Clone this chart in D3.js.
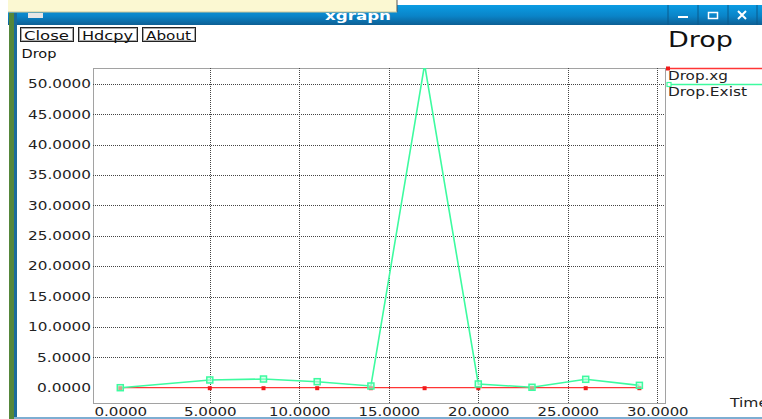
<!DOCTYPE html>
<html>
<head>
<meta charset="utf-8">
<title>xgraph Drop</title>
<style>
  html, body { margin: 0; padding: 0; background: #fff; }
  svg { display: block; }
  text { font-family: "DejaVu Sans", sans-serif; }
</style>
</head>
<body>
<svg id="chart" width="762" height="419"></svg>

<script src="https://cdn.jsdelivr.net/npm/d3@7"></script>
<script>
// values
const times     = [0, 5, 8, 11, 14, 17, 20, 23, 26, 29];
const dropXg    = [0, 0, 0, 0, 0, 0, 0, 0, 0, 0];
const dropExist = [0, 1.27, 1.43, 0.99, 0.28, 53.2, 0.61, 0.07, 1.38, 0.39];

const xTicks = [0, 5, 10, 15, 20, 25, 30];
const yTicks = [0, 5, 10, 15, 20, 25, 30, 35, 40, 45, 50];
const seriesNames = ["Drop.xg", "Drop.Exist"];
const buttons = ["Close", "Hdcpy", "About"];

const svg = d3.select("#chart");
const defs = svg.append("defs");

// ---- window chrome ----
svg.append("rect").attr("x", 0).attr("y", 0).attr("width", 762).attr("height", 419).attr("fill", "#fff");

const grad = defs.append("linearGradient")
  .attr("id", "tb").attr("x1", 0).attr("y1", 0).attr("x2", 0).attr("y2", 1);
grad.append("stop").attr("offset", "0%").attr("stop-color", "#0b9ce3");
grad.append("stop").attr("offset", "55%").attr("stop-color", "#0a84c8");
grad.append("stop").attr("offset", "100%").attr("stop-color", "#0d5f94");

svg.append("rect").attr("x", 8).attr("y", 5).attr("width", 754).attr("height", 20).attr("fill", "url(#tb)");
// left frame: green strip + blue strip
svg.append("rect").attr("x", 9).attr("y", 13).attr("width", 5).attr("height", 406).attr("fill", "#55873a");
svg.append("rect").attr("x", 14).attr("y", 13).attr("width", 3).attr("height", 406).attr("fill", "#1b6b9b");
// bottom frame line
svg.append("rect").attr("x", 14).attr("y", 417).attr("width", 748).attr("height", 2).attr("fill", "#7eaed2");

// title text (partly under the yellow tooltip strip)
svg.append("text").attr("x", 358).attr("y", 20).attr("text-anchor", "middle")
  .attr("fill", "#fff").attr("font-weight", "bold").attr("font-size", 13)
  .attr("textLength", 66).attr("lengthAdjust", "spacingAndGlyphs")
  .text("xgrapn");

// yellow strip at top-left
svg.append("rect").attr("x", 8).attr("y", 0).attr("width", 389).attr("height", 12).attr("fill", "#fbf8d2");
svg.append("line").attr("x1", 397).attr("x2", 397).attr("y1", 0).attr("y2", 12).attr("stroke", "#555");
svg.append("line").attr("x1", 8).attr("x2", 397).attr("y1", 12).attr("y2", 12).attr("stroke", "#c9c59a");

// window icon
svg.append("rect").attr("x", 28).attr("y", 13).attr("width", 15).attr("height", 5).attr("fill", "#e6e6e6");

// window controls
const ctl = svg.append("g");
[668, 698, 728, 757].forEach(x => {
  ctl.append("line").attr("x1", x).attr("x2", x).attr("y1", 5).attr("y2", 25).attr("stroke", "#0b5a8c");
});
ctl.append("rect").attr("x", 678).attr("y", 16).attr("width", 10).attr("height", 2).attr("fill", "#fff");
ctl.append("rect").attr("x", 708.5).attr("y", 12.5).attr("width", 9).attr("height", 6).attr("fill", "none")
  .attr("stroke", "#fff").attr("stroke-width", 1.5);
ctl.append("path").attr("d", "M738,11 L746,19 M746,11 L738,19").attr("stroke", "#fff").attr("stroke-width", 2);

// ---- xgraph buttons ----
const btnX = [20, 78, 142];
const btnW = [53, 59, 53];
buttons.forEach((b, i) => {
  const g = svg.append("g");
  g.append("rect").attr("x", btnX[i] + 0.5).attr("y", 27.5).attr("width", btnW[i]).attr("height", 14)
    .attr("fill", "#fff").attr("stroke", "#222");
  g.append("rect").attr("x", btnX[i] + 1.5).attr("y", 28.5).attr("width", btnW[i] - 2).attr("height", 12)
    .attr("fill", "none").attr("stroke", "#aaa");
  g.append("text").attr("x", btnX[i] + 4).attr("y", 39.5).attr("font-size", 12.5).attr("fill", "#111")
    .attr("textLength", btnW[i] - 8).attr("lengthAdjust", "spacingAndGlyphs")
    .text(b);
});

svg.append("text").attr("x", 21.5).attr("y", 57.5).attr("font-size", 11.5).attr("fill", "#111")
  .attr("textLength", 35).attr("lengthAdjust", "spacingAndGlyphs").text("Drop");

svg.append("text").attr("x", 668).attr("y", 47).attr("font-size", 20.5).attr("fill", "#111")
  .attr("textLength", 65).attr("lengthAdjust", "spacingAndGlyphs").text("Drop");

// ---- plot ----
const plot = { left: 93, right: 665, top: 68, bottom: 403 };

defs.append("clipPath").attr("id", "plotclip").append("rect")
  .attr("x", plot.left).attr("y", plot.top).attr("width", plot.right - plot.left).attr("height", plot.bottom - plot.top);

const x = d3.scaleLinear().domain([0, 30]).range([120.3, 657.3]);
const y = d3.scaleLinear().domain([0, 50]).range([387.7, 84]);

const grid = svg.append("g").attr("stroke", "#444").attr("stroke-dasharray", "1,1").attr("fill", "none");
grid.append("rect").attr("x", plot.left + 0.5).attr("y", plot.top + 0.5)
  .attr("width", plot.right - plot.left).attr("height", plot.bottom - plot.top);
grid.selectAll(".vg").data(xTicks.filter(d => d !== 0)).enter().append("line")
  .attr("x1", d => Math.round(x(d)) + 0.5).attr("x2", d => Math.round(x(d)) + 0.5)
  .attr("y1", plot.top).attr("y2", plot.bottom);
grid.selectAll(".hg").data(yTicks.filter(d => d !== 0)).enter().append("line")
  .attr("y1", d => Math.round(y(d)) + 0.5).attr("y2", d => Math.round(y(d)) + 0.5)
  .attr("x1", plot.left).attr("x2", plot.right);

// axes (labels only)
const fmt = d3.format(".4f");
const yAxis = svg.append("g").attr("transform", `translate(${plot.left - 1},0)`)
  .call(d3.axisLeft(y).tickValues(yTicks).tickFormat(fmt).tickSize(0).tickPadding(1));
yAxis.select(".domain").remove();
yAxis.selectAll("text").attr("font-size", 11.5).attr("fill", "#222")
  .attr("font-family", "DejaVu Sans, sans-serif")
  .attr("textLength", d => fmt(d).length * 9)
  .attr("lengthAdjust", "spacingAndGlyphs");

const xAxis = svg.append("g").attr("transform", `translate(0,${plot.bottom})`)
  .call(d3.axisBottom(x).tickValues(xTicks).tickFormat(fmt).tickSize(0).tickPadding(5.3));
xAxis.select(".domain").remove();
xAxis.selectAll("text").attr("font-size", 11.5).attr("fill", "#222")
  .attr("font-family", "DejaVu Sans, sans-serif")
  .attr("textLength", d => fmt(d).length * 8.8)
  .attr("lengthAdjust", "spacingAndGlyphs");

svg.append("text").attr("x", 730).attr("y", 407).attr("font-size", 12).attr("fill", "#222")
  .attr("textLength", 38).attr("lengthAdjust", "spacingAndGlyphs").text("Time");

// ---- series ----
const red = "#ff3535", green = "#3dfba0";
const line = d3.line().x(d => x(d[0])).y(d => y(d[1]));
const xgPts = times.map((t, i) => [t, dropXg[i]]);
const exPts = times.map((t, i) => [t, dropExist[i]]);

const series = svg.append("g").attr("clip-path", "url(#plotclip)");
series.append("path").datum(xgPts).attr("d", line).attr("fill", "none").attr("stroke", red).attr("stroke-width", 1.3);
series.append("path").datum(exPts).attr("d", line).attr("fill", "none").attr("stroke", green).attr("stroke-width", 1.6);

series.selectAll(".rm").data(xgPts).enter().append("rect")
  .attr("x", d => x(d[0]) - 2).attr("y", d => y(d[1]) - 1.5).attr("width", 4).attr("height", 4).attr("fill", "#f21a1a");
series.selectAll(".gm").data(exPts).enter().append("rect")
  .attr("x", d => x(d[0]) - 3).attr("y", d => y(d[1]) - 3).attr("width", 6).attr("height", 6)
  .attr("fill", "#b9ffdc").attr("fill-opacity", 0.6).attr("stroke", green).attr("stroke-width", 1.5);

// ---- legend ----
const legY = [68.5, 84.5];
const legC = [red, green];
seriesNames.forEach((n, i) => {
  svg.append("line").attr("x1", 667).attr("x2", 762).attr("y1", legY[i]).attr("y2", legY[i])
    .attr("stroke", legC[i]).attr("stroke-width", 1.3);
  if (i === 0) {
    svg.append("rect").attr("x", 666).attr("y", 66.5).attr("width", 4).attr("height", 4).attr("fill", "#f21a1a");
  } else {
    svg.append("rect").attr("x", 667).attr("y", 82.5).attr("width", 4).attr("height", 4)
      .attr("fill", "#fff").attr("stroke", green).attr("stroke-width", 1.2);
  }
  svg.append("text").attr("x", 668).attr("y", legY[i] + 11).attr("font-size", 11.5).attr("fill", "#222")
    .attr("textLength", i === 0 ? 60 : 79).attr("lengthAdjust", "spacingAndGlyphs").text(n);
});
</script>
</body>
</html>
